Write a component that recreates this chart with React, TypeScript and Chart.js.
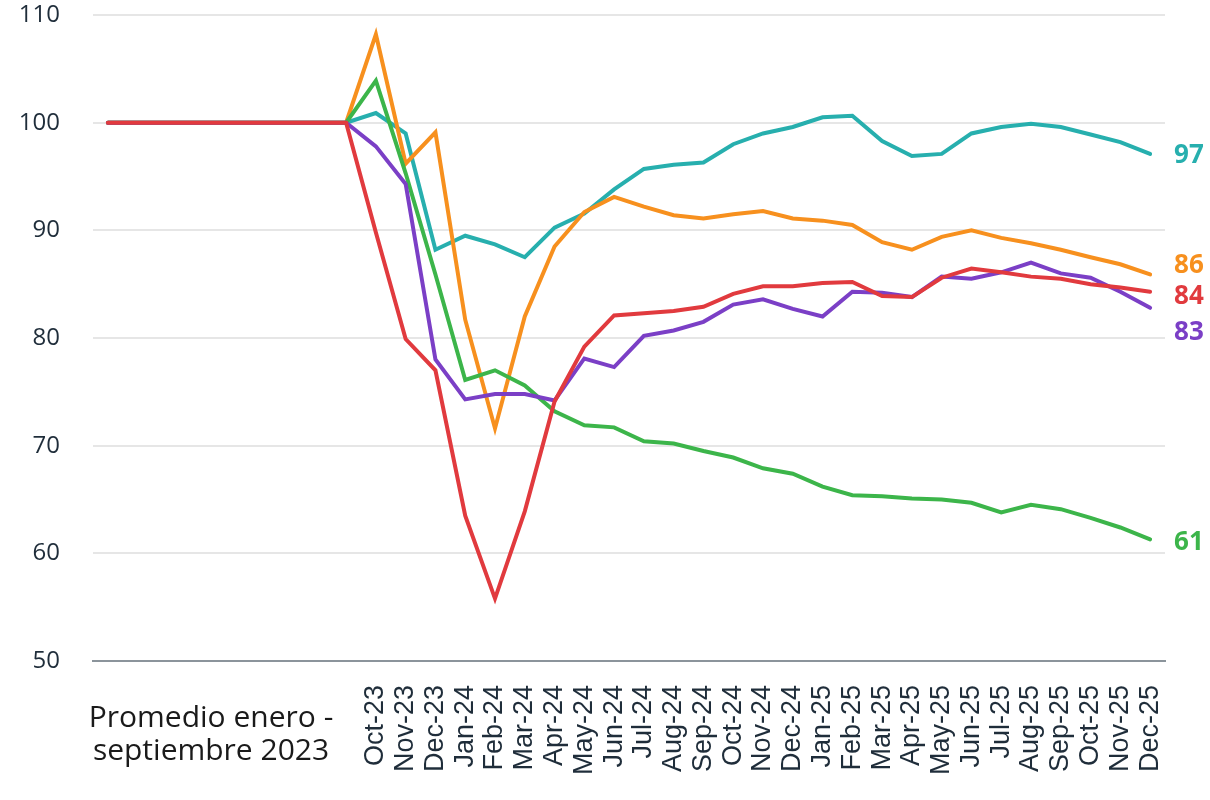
import React, { useEffect, useRef } from "react";
import { Chart, registerables } from "chart.js";

Chart.register(...registerables);

const months: string[] = [
  "Jan-23", "Feb-23", "Mar-23", "Apr-23", "May-23", "Jun-23", "Jul-23", "Aug-23", "Sep-23",
  "Oct-23", "Nov-23", "Dec-23",
  "Jan-24", "Feb-24", "Mar-24", "Apr-24", "May-24", "Jun-24", "Jul-24", "Aug-24", "Sep-24", "Oct-24", "Nov-24", "Dec-24",
  "Jan-25", "Feb-25", "Mar-25", "Apr-25", "May-25", "Jun-25", "Jul-25", "Aug-25", "Sep-25", "Oct-25", "Nov-25", "Dec-25",
];

const baseline: number[] = [100, 100, 100, 100, 100, 100, 100, 100, 100];

const tealValues: number[] = [...baseline,
  100.9, 99.0, 88.2, 89.5, 88.7, 87.5, 90.25, 91.55, 93.8, 95.7, 96.1, 96.3, 98.0, 99.0, 99.6,
  100.5, 100.65, 98.3, 96.9, 97.1, 99.0, 99.6, 99.9, 99.6, 98.9, 98.2, 97.1];
const orangeValues: number[] = [...baseline,
  108.2, 96.2, 99.1, 81.7, 71.6, 82.0, 88.5, 91.7, 93.1, 92.2, 91.4, 91.1, 91.5, 91.8, 91.1,
  90.9, 90.5, 88.9, 88.2, 89.4, 90.0, 89.3, 88.8, 88.2, 87.5, 86.85, 85.9];
const greenValues: number[] = [...baseline,
  103.9, 95.3, 85.9, 76.1, 77.0, 75.6, 73.2, 71.9, 71.7, 70.4, 70.2, 69.5, 68.9, 67.9, 67.4,
  66.2, 65.4, 65.3, 65.1, 65.0, 64.7, 63.8, 64.5, 64.1, 63.3, 62.4, 61.3];
const redValues: number[] = [...baseline,
  89.8, 79.9, 77.0, 63.5, 55.8, 63.9, 74.1, 79.2, 82.1, 82.3, 82.5, 82.9, 84.1, 84.8, 84.8,
  85.1, 85.2, 83.9, 83.8, 85.6, 86.45, 86.1, 85.7, 85.5, 85.0, 84.7, 84.3];
const purpleValues: number[] = [...baseline,
  97.8, 94.3, 78.0, 74.3, 74.8, 74.8, 74.2, 78.1, 77.3, 80.2, 80.7, 81.5, 83.1, 83.6, 82.7,
  82.0, 84.3, 84.2, 83.8, 85.7, 85.5, 86.1, 87.0, 86.0, 85.6, 84.3, 82.8];

const endLabels: string[] = ["84", "83", "61", "86", "97"];
const firstCategoryText: string[] = ["Promedio enero -", "septiembre 2023"];
const yTicks: number[] = [50, 60, 70, 80, 90, 100, 110];

// styles (drawing order: first dataset on top)
const seriesStyles = [
  { color: "#E13A3E", dy: 5 },
  { color: "#7B3FC6", dy: 25 },
  { color: "#3CB54A", dy: 3 },
  { color: "#F7901E", dy: -9 },
  { color: "#27AFAE", dy: 2 },
];
const seriesData = [redValues, purpleValues, greenValues, orangeValues, tealValues];

const endLabelPlugin = {
  id: "endLabels",
  afterDatasetsDraw(chart: any) {
    const ctx = chart.ctx;
    ctx.save();
    ctx.font = "bold 26px 'Open Sans'";
    ctx.textAlign = "left";
    ctx.textBaseline = "middle";
    chart.data.datasets.forEach((ds: any, i: number) => {
      const meta = chart.getDatasetMeta(i);
      const last = meta.data[meta.data.length - 1];
      ctx.fillStyle = seriesStyles[i].color;
      ctx.fillText(endLabels[i], last.x + 24, last.y + seriesStyles[i].dy);
    });
    ctx.restore();
  },
};

const categoryTextPlugin = {
  id: "categoryText",
  afterDraw(chart: any) {
    const x = chart.scales.x;
    const ctx = chart.ctx;
    const cx = (x.getPixelForValue(0) + x.getPixelForValue(8)) / 2 - 16;
    ctx.save();
    ctx.font = "30px 'Open Sans'";
    ctx.fillStyle = "#1a1a1a";
    ctx.textAlign = "center";
    ctx.textBaseline = "alphabetic";
    ctx.fillText(firstCategoryText[0], cx, x.top + 66);
    ctx.fillText(firstCategoryText[1], cx, x.top + 99);
    ctx.restore();
  },
};

const zeroPadding = (scale: any) => {
  scale.paddingTop = 0;
  scale.paddingBottom = 0;
  scale.paddingLeft = 0;
  scale.paddingRight = 0;
};

export default function App() {
  const canvasRef = useRef<HTMLCanvasElement | null>(null);

  useEffect(() => {
    document.body.style.margin = "0";
    const canvas = canvasRef.current;
    if (!canvas) return;
    const chart = new Chart(canvas, {
      type: "line",
      data: {
        labels: months,
        datasets: seriesData.map((d, i) => ({
          data: d,
          borderColor: seriesStyles[i].color,
          backgroundColor: seriesStyles[i].color,
          borderWidth: 4,
          pointRadius: 0,
          tension: 0,
          fill: false,
          borderCapStyle: "round" as const,
        })),
      },
      options: {
        animation: false,
        responsive: true,
        maintainAspectRatio: false,
        layout: { padding: { top: 15, right: 45, left: 0, bottom: 0 } },
        plugins: { legend: { display: false }, tooltip: { enabled: false } },
        scales: {
          x: {
            offset: true,
            grid: { display: false, drawTicks: false },
            border: { display: true, color: "#8B949B", width: 2 },
            ticks: {
              autoSkip: false,
              maxRotation: 90,
              minRotation: 90,
              padding: 24,
              color: "#1F2D3A",
              font: { family: "'Liberation Sans', Arial, sans-serif", size: 27 },
              callback: (_v: any, idx: number) => (idx >= 9 ? months[idx] : ""),
            },
            afterFit: (scale: any) => {
              scale.height = 139;
              zeroPadding(scale);
            },
          },
          y: {
            min: 50,
            max: 110,
            afterBuildTicks: (scale: any) => {
              scale.ticks = yTicks.map((v) => ({ value: v }));
            },
            grid: { color: "#E6E6E6", lineWidth: 2, drawTicks: false },
            border: { display: false },
            ticks: {
              padding: 33,
              color: "#1F2D3A",
              font: { family: "'Open Sans', sans-serif", size: 24 },
            },
            afterFit: (scale: any) => {
              scale.width = 93;
              zeroPadding(scale);
            },
          },
        },
      },
      plugins: [endLabelPlugin, categoryTextPlugin],
    });
    return () => chart.destroy();
  }, []);

  return (
    <div style={{ width: 1210, height: 800, position: "relative" }}>
      <canvas ref={canvasRef} />
    </div>
  );
}
